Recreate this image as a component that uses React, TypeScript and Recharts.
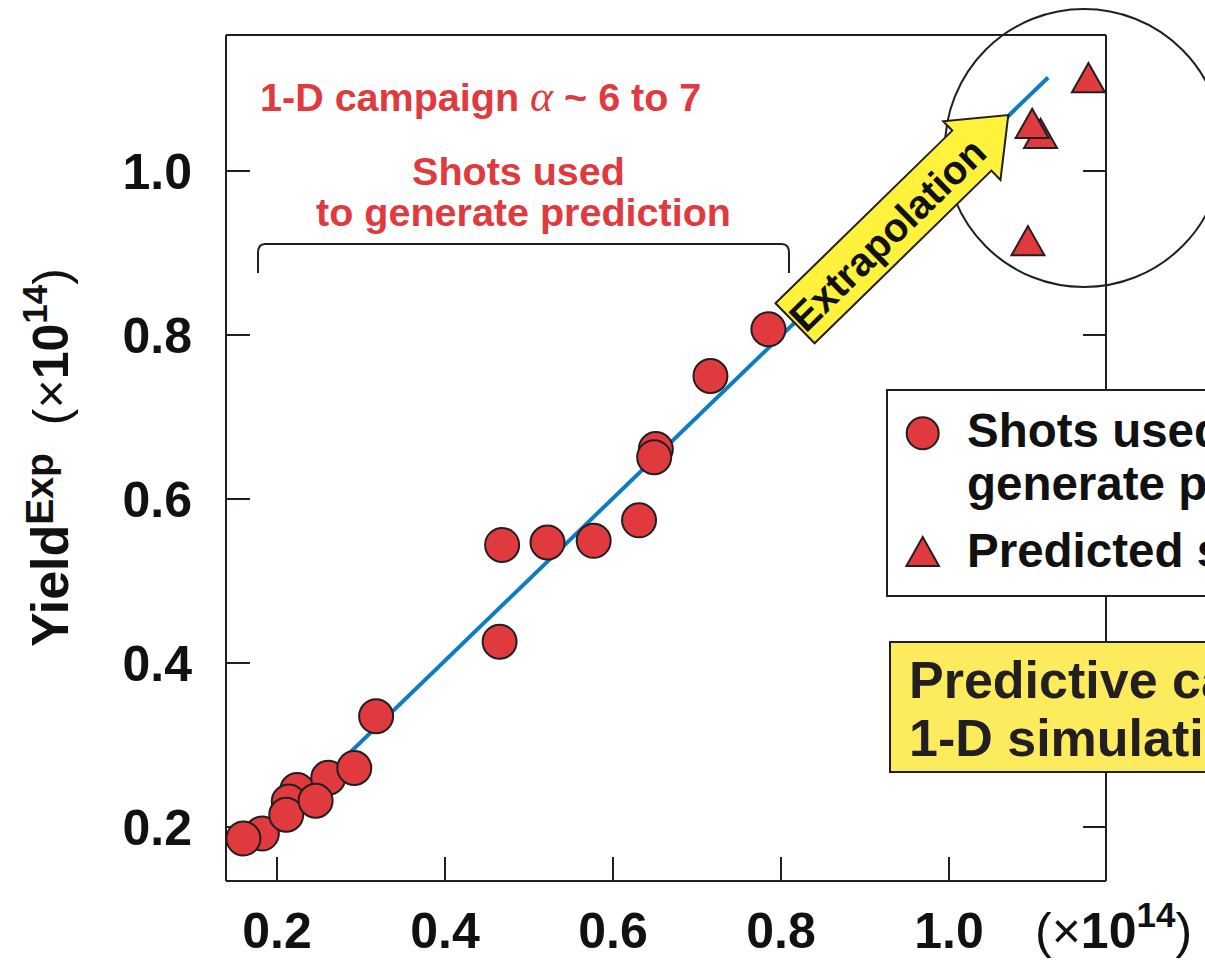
import React from 'react';
import {
  ScatterChart,
  Scatter,
  XAxis,
  YAxis,
  ReferenceLine,
  ReferenceDot,
  Legend,
} from 'recharts';

// yields in units of 1e14 (simulated on x, experimental on y)
// shots used to generate the prediction
const shotSimYield = [0.182, 0.160, 0.224, 0.214, 0.211, 0.261, 0.246, 0.292, 0.318, 0.465, 0.468, 0.522, 0.577, 0.631, 0.651, 0.649, 0.716, 0.785];
const shotExpYield = [0.192, 0.186, 0.245, 0.231, 0.215, 0.260, 0.232, 0.272, 0.335, 0.426, 0.544, 0.547, 0.549, 0.574, 0.661, 0.651, 0.750, 0.807];

// predicted shots
const predSimYield = [1.109, 1.099, 1.166, 1.094];
const predExpYield = [1.040, 1.052, 1.108, 0.909];

// fitted line end points
const fitSimYield = [0.17, 1.118];
const fitExpYield = [0.175, 1.114];

const xTicks = [0.2, 0.4, 0.6, 0.8, 1.0];
const yTicks = [0.2, 0.4, 0.6, 0.8, 1.0];

const RED = '#e03a3f';
const INK = '#231f20';
const BLUE = '#0c7dc2';
const FONT = '"Liberation Sans", Arial, Helvetica, sans-serif';

const shots = shotSimYield.map((x, i) => ({ x, y: shotExpYield[i] }));
const predicted = predSimYield.map((x, i) => ({ x, y: predExpYield[i] }));
const fit = fitSimYield.map((x, i) => ({ x, y: fitExpYield[i] }));

const CircleMark = (p: any) => (
  <circle cx={p.cx} cy={p.cy} r={17} fill={RED} stroke={INK} strokeWidth={2} />
);

const TriangleMark = (p: any) => {
  const { cx, cy } = p;
  return (
    <polygon
      points={`${cx},${cy - 19.5} ${cx + 16.5},${cy + 9.7} ${cx - 16.5},${cy + 9.7}`}
      fill={RED}
      stroke={INK}
      strokeWidth={2}
    />
  );
};

// yellow "Extrapolation" arrow drawn along a segment (tail -> tip)
const ArrowShape = (p: any) => {
  const { x1, y1, x2, y2 } = p;
  const len = Math.hypot(x2 - x1, y2 - y1);
  const ang = (Math.atan2(y2 - y1, x2 - x1) * 180) / Math.PI;
  const sw = 28;
  const hw = 41;
  const hl = 51;
  const pts = [
    [0, -sw], [len - hl, -sw], [len - hl, -hw], [len, 0],
    [len - hl, hw], [len - hl, sw], [0, sw],
  ].map((q) => q.join(',')).join(' ');
  return (
    <g transform={`translate(${x1},${y1}) rotate(${ang})`}>
      <polygon points={pts} fill="#fff23c" stroke={INK} strokeWidth={2} />
      <text
        x={len * 0.43}
        y={1}
        textAnchor="middle"
        dominantBaseline="central"
        fontFamily={FONT}
        fontWeight={700}
        fontSize={40}
        fill="#111"
      >
        Extrapolation
      </text>
    </g>
  );
};

// bracket over the shots used, with its caption
const BraceShape = (p: any) => {
  const { x1, y1, x2 } = p;
  const drop = 29;
  const d = `M${x1},${y1 + drop} L${x1},${y1 + 9} Q${x1},${y1} ${x1 + 7},${y1} L${x2 - 7},${y1} Q${x2},${y1} ${x2},${y1 + 9} L${x2},${y1 + drop}`;
  const mid = (x1 + x2) / 2;
  return (
    <g>
      <path d={d} fill="none" stroke={INK} strokeWidth={2} />
      <text textAnchor="middle" fontFamily={FONT} fontWeight={700} fontSize={39.5} fill={RED}>
        <tspan x={mid - 5} y={y1 - 59}>Shots used</tspan>
        <tspan x={mid} y={y1 - 18}>to generate prediction</tspan>
      </text>
    </g>
  );
};

const CampaignText = (p: any) => (
  <text x={p.cx} y={p.cy} fontFamily={FONT} fontWeight={700} fontSize={39.5} fill={RED}>
    1-D campaign{' '}
    <tspan fontFamily='"Liberation Serif", serif' fontStyle="italic" fontWeight={400} fontSize={44}>
      α
    </tspan>
    <tspan> ~ 6 to 7</tspan>
  </text>
);

const BigCircle = (p: any) => (
  <circle cx={p.cx} cy={p.cy} r={139} fill="none" stroke={INK} strokeWidth={2} />
);

const YTitle = ({ viewBox }: any) => (
  <text
    transform={`translate(${viewBox.x + 68},${viewBox.y + 612}) rotate(-90)`}
    fontFamily={FONT}
    fontSize={50}
    fill="#111"
  >
    <tspan fontWeight={700} fontSize={52}>Yield</tspan>
    <tspan fontWeight={700} fontSize={39} dy={-15}>Exp</tspan>
    <tspan dy={15} dx={28}>(×</tspan>
    <tspan fontWeight={700}>10</tspan>
    <tspan fontWeight={700} fontSize={35} dy={-21}>14</tspan>
    <tspan dy={21}>)</tspan>
  </text>
);

const XUnit = ({ viewBox }: any) => (
  <text x={viewBox.x + 809} y={viewBox.y + 67} fontFamily={FONT} fontSize={50} fill="#111">
    <tspan>(×</tspan>
    <tspan fontWeight={700}>10</tspan>
    <tspan fontWeight={700} fontSize={35} dy={-21}>14</tspan>
    <tspan dy={21}>)</tspan>
  </text>
);

const LegendPanel = () => (
  <svg width={600} height={400} style={{ display: 'block', overflow: 'visible' }}>
    <rect x={1} y={1} width={560} height={206} fill="#fff" stroke={INK} strokeWidth={2} />
    <circle cx={36.7} cy={44.3} r={16} fill={RED} stroke={INK} strokeWidth={2} />
    <polygon points="36.7,148 53,177 20.4,177" fill={RED} stroke={INK} strokeWidth={2} />
    <text fontFamily={FONT} fontWeight={700} fontSize={47.5} fill="#111">
      <tspan x={81} y={58}>Shots used to</tspan>
      <tspan x={81} y={111}>generate prediction</tspan>
      <tspan x={81} y={178}>Predicted shots</tspan>
    </text>
    <rect x={4} y={253} width={600} height={130} fill="#fdeb5e" stroke={INK} strokeWidth={2} />
    <text fontFamily={FONT} fontWeight={700} fontSize={52} fill={INK}>
      <tspan x={23} y={309}>Predictive capability of</tspan>
      <tspan x={23} y={367}>1-D simulations</tspan>
    </text>
  </svg>
);

const tickStyle = { fontSize: 50, fontWeight: 700, fill: '#111', fontFamily: FONT };
const lineStyle = { stroke: INK, strokeWidth: 2 };

export default function App() {
  return (
    <div style={{ position: 'fixed', left: 0, top: 0, width: 1205, height: 961, overflow: 'hidden', background: '#fff' }}>
      <ScatterChart width={1400} height={961} margin={{ top: 34, right: 293, bottom: 0, left: 0 }}>
        <XAxis
          type="number"
          dataKey="x"
          domain={[0.13929, 1.1869]}
          ticks={xTicks}
          tickFormatter={(v: number) => v.toFixed(1)}
          height={80}
          axisLine={lineStyle}
          tickLine={lineStyle}
          tickSize={-24}
          tickMargin={55}
          tick={tickStyle}
          allowDataOverflow
          label={(props: any) => <XUnit {...props} />}
        />
        <XAxis
          xAxisId="top"
          orientation="top"
          type="number"
          domain={[0.1204, 1.1064]}
          ticks={xTicks}
          tickFormatter={() => ''}
          height={1}
          axisLine={lineStyle}
          tickLine={lineStyle}
          tickSize={-24}
          allowDataOverflow
        />
        <YAxis
          type="number"
          dataKey="y"
          domain={[0.13415, 1.16585]}
          ticks={yTicks}
          tickFormatter={(v: number) => v.toFixed(1)}
          width={226}
          axisLine={lineStyle}
          tickLine={lineStyle}
          tickSize={-24}
          tickMargin={58}
          tick={tickStyle}
          allowDataOverflow
          label={(props: any) => <YTitle {...props} />}
        />
        <YAxis
          yAxisId="right"
          orientation="right"
          type="number"
          domain={[0.13415, 1.16585]}
          ticks={yTicks}
          tickFormatter={() => ''}
          width={1}
          axisLine={lineStyle}
          tickLine={lineStyle}
          tickSize={-23}
          allowDataOverflow
        />
        <Scatter
          name="fit"
          data={fit}
          line={{ stroke: BLUE, strokeWidth: 4 }}
          shape={() => <g />}
          legendType="none"
          isAnimationActive={false}
        />
        <Scatter name="Shots used to generate prediction" data={shots} shape={CircleMark} isAnimationActive={false} />
        <Scatter name="Predicted shots" data={predicted} shape={TriangleMark} isAnimationActive={false} />
        <ReferenceDot x={1.1607} y={1.028} ifOverflow="visible" shape={BigCircle} />
        <ReferenceLine
          segment={[{ x: 0.8167, y: 0.8143 }, { x: 1.0706, y: 1.0683 }]}
          ifOverflow="visible"
          shape={ArrowShape}
          zIndex={1500}
        />
        <ReferenceLine
          segment={[{ x: 0.1774, y: 0.911 }, { x: 0.8095, y: 0.911 }]}
          ifOverflow="visible"
          shape={BraceShape}
        />
        <ReferenceDot x={0.1798} y={1.0732} ifOverflow="visible" shape={CampaignText} />
        <Legend
          layout="vertical"
          align="center"
          verticalAlign="middle"
          wrapperStyle={{ position: 'absolute', left: 886, top: 389, width: 600, height: 400 }}
          content={() => <LegendPanel />}
        />
      </ScatterChart>
    </div>
  );
}
